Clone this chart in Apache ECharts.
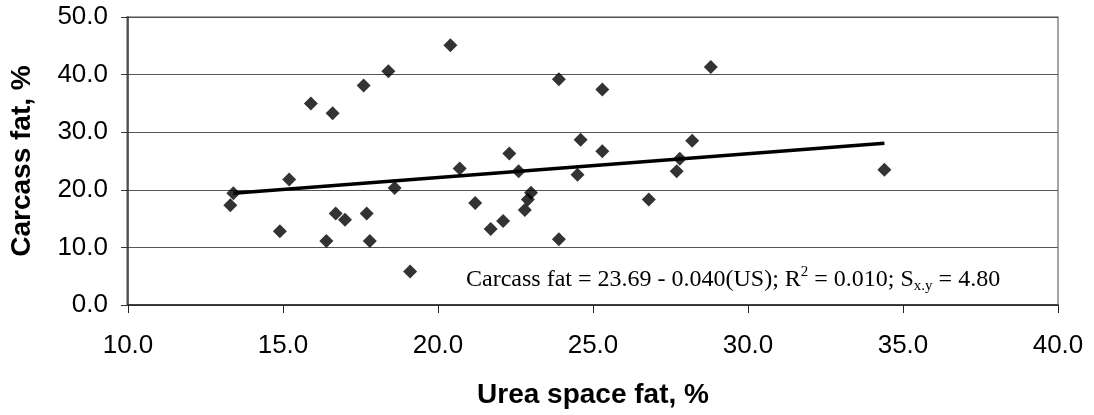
<!DOCTYPE html>
<html>
<head>
<meta charset="utf-8">
<script src="https://cdn.jsdelivr.net/npm/echarts@6/dist/echarts.min.js"></script>
<style>
  html, body { margin: 0; padding: 0; background: #fff; }
  #chart { width: 1094px; height: 415px; }
</style>
</head>
<body>
<div id="chart"></div>
<script>
// urea space fat (x) and carcass fat (y)
const ureaSpaceFat = [
  13.3, 13.4, 14.9, 15.2, 15.9, 16.4, 16.6, 16.7, 17.0, 17.6, 17.7, 17.8, 18.4, 18.6, 19.1,
  20.4, 20.7, 21.2, 21.7, 22.1, 22.3, 22.6, 22.8, 22.9, 23.0, 23.9, 23.9, 24.5, 24.6, 25.3,
  25.3, 26.8, 27.7, 27.8, 28.2, 28.8, 34.4
];
const carcassFat = [
  17.3, 19.4, 12.8, 21.8, 35.0, 11.1, 33.3, 15.9, 14.8, 38.1, 15.9, 11.1, 40.6, 20.3, 5.8,
  45.1, 23.7, 17.7, 13.2, 14.6, 26.3, 23.2, 16.5, 18.3, 19.5, 39.2, 11.4, 22.6, 28.7, 37.4,
  26.7, 18.3, 23.2, 25.4, 28.5, 41.3, 23.5
];
// fitted line end points
const trendX = [13.4, 34.4];
const trendY = [19.4, 28.1];

const xTicks = { min: 10, max: 40, interval: 5 };
const yTicks = { min: 0, max: 50, interval: 10 };

const chart = echarts.init(document.getElementById("chart"));

const option = {
  animation: false,
  grid: { left: 127, right: 36, top: 17, bottom: 110 },
  xAxis: {
    type: "value",
    min: xTicks.min,
    max: xTicks.max,
    interval: xTicks.interval,
    name: "Urea space fat, %",
    nameLocation: "middle",
    nameGap: 76,
    nameTextStyle: { fontFamily: "Liberation Sans", fontWeight: "bold", fontSize: 28, color: "#000" },
    axisLine: { show: true, lineStyle: { color: "#222", width: 1.5 } },
    axisTick: { show: true, length: 8, inside: false, lineStyle: { color: "#222" } },
    axisLabel: {
      margin: 28,
      fontFamily: "Liberation Sans",
      fontSize: 26,
      color: "#000",
      formatter: (v) => v.toFixed(1),
    },
    splitLine: { show: false },
  },
  yAxis: {
    type: "value",
    min: yTicks.min,
    max: yTicks.max,
    interval: yTicks.interval,
    name: "Carcass fat, %",
    nameLocation: "middle",
    nameGap: 92,
    nameTextStyle: { fontFamily: "Liberation Sans", fontWeight: "bold", fontSize: 28, color: "#000" },
    axisLine: { show: true, lineStyle: { color: "#333", width: 1.5 } },
    axisTick: { show: true, length: 7, inside: false, lineStyle: { color: "#333" } },
    axisLabel: {
      margin: 20,
      fontFamily: "Liberation Sans",
      fontSize: 26,
      color: "#000",
      formatter: (v) => v.toFixed(1),
    },
    splitLine: { show: true, lineStyle: { color: "#555", width: 1 } },
  },
  series: [
    {
      type: "scatter",
      symbol: "diamond",
      symbolSize: 14,
      itemStyle: { color: "#000" },
      data: ureaSpaceFat.map((x, i) => [x, carcassFat[i]]),
      z: 3,
    },
    {
      type: "line",
      symbol: "none",
      lineStyle: { color: "#000", width: 3.5 },
      data: trendX.map((x, i) => [x, trendY[i]]),
      z: 4,
    },
  ],
  graphic: [
    {
      type: "rect",
      shape: { x: 127, y: 17, width: 931, height: 288 },
      style: { fill: "none", stroke: "#888", lineWidth: 1.5 },
      silent: true,
      z: 0,
    },
    {
      type: "text",
      left: 466,
      top: 265,
      style: {
        text: "{m|Carcass fat = 23.69 - 0.040(US); R}{sup|2}{m| = 0.010; S}{sub|x.y}{m| = 4.80}",
        fill: "#000",
        rich: {
          m: { fontFamily: "Liberation Serif", fontSize: 24, lineHeight: 29, fill: "#000" },
          sup: { fontFamily: "Liberation Serif", fontSize: 15, lineHeight: 16, verticalAlign: "top", fill: "#000" },
          sub: { fontFamily: "Liberation Serif", fontSize: 15, lineHeight: 14, verticalAlign: "bottom", fill: "#000" },
        },
      },
      z: 5,
    },
  ],
};

chart.setOption(option);
</script>
</body>
</html>
